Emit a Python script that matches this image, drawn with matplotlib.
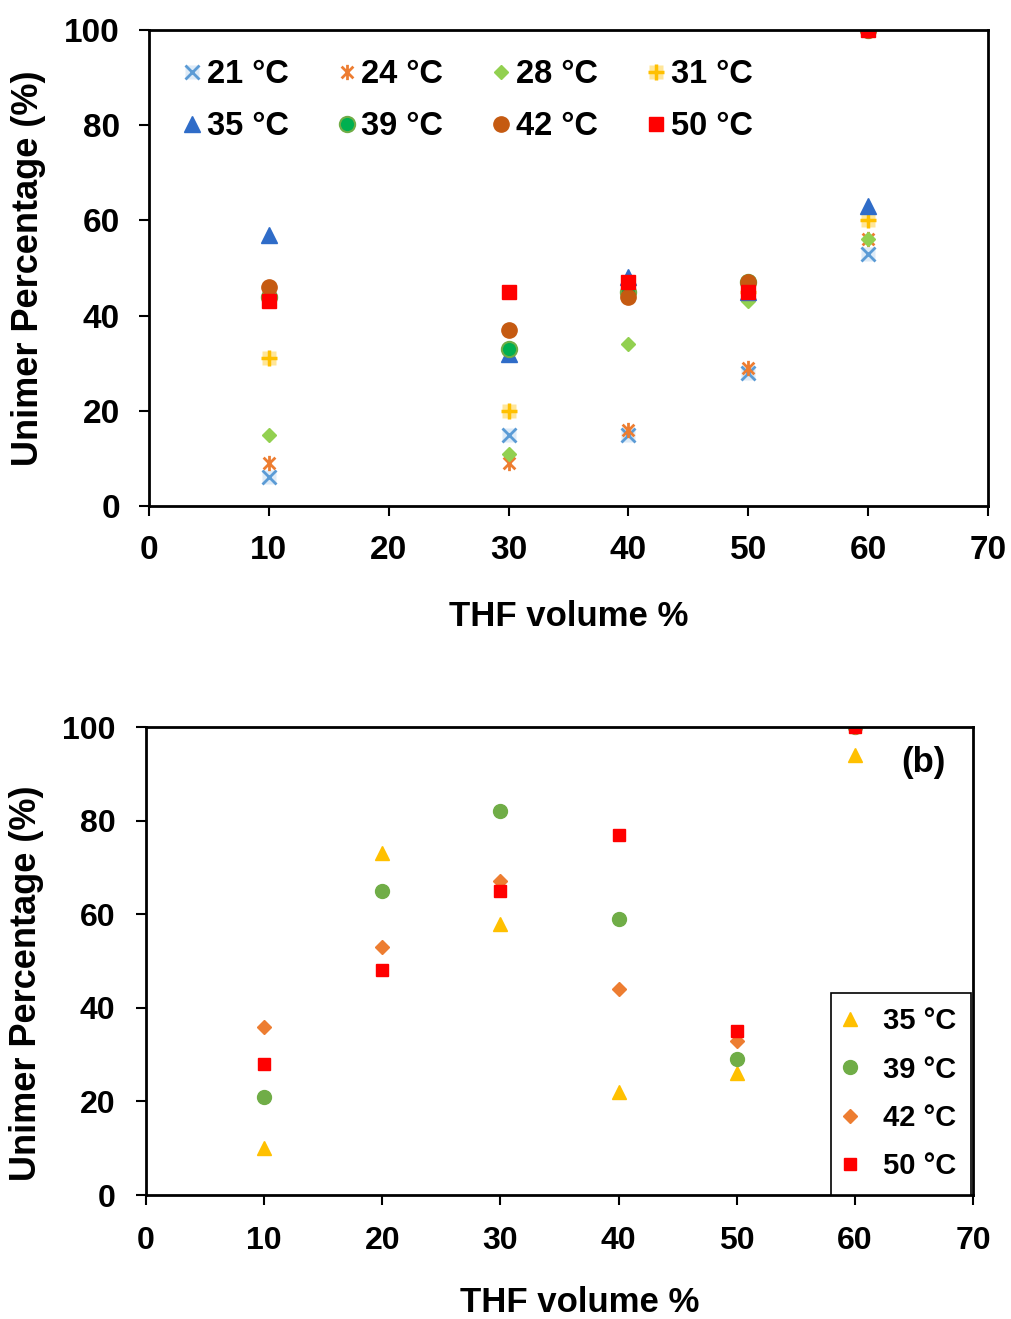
"""Unimer percentage vs THF volume % at several temperatures (two panels)."""

import matplotlib

matplotlib.use("Agg")
import matplotlib.pyplot as plt
from matplotlib.legend_handler import HandlerTuple
from matplotlib.path import Path

plt.rcParams["font.family"] = ["Liberation Sans", "DejaVu Sans"]
plt.rcParams["font.weight"] = "bold"

# panel (a)
thf_a = [10, 30, 40, 50, 60]
temps_a = ["21 °C", "24 °C", "28 °C", "31 °C", "35 °C", "39 °C", "42 °C", "50 °C"]
t21 = [6, 15, 15, 28, 53]
t24 = [9, 9, 16, 29, 56]
t28 = [15, 11, 34, 43, 56]
t31 = [31, 20, 45, 45, 60]
t35 = [57, 32, 48, 45, 63]
t39 = [44, 33, 45, 47, 100]
t42 = [46, 37, 44, 47, 100]
t50 = [43, 45, 47, 45, 100]

# panel (b)
thf_b = [10, 20, 30, 40, 50, 60]
temps_b = ["35 °C", "39 °C", "42 °C", "50 °C"]
b35 = [10, 73, 58, 22, 26, 94]
b39 = [21, 65, 82, 59, 29, 100]
b42 = [36, 53, 67, 44, 33, 100]
b50 = [28, 48, 65, 77, 35, 100]

M, L = Path.MOVETO, Path.LINETO
STAR = Path([(-1, -1), (1, 1), (-1, 1), (1, -1), (0, -1.3), (0, 1.3)], [M, L, M, L, M, L])


def style(ax, size, pad):
    ax.set_xlim(0, 70)
    ax.set_ylim(0, 100)
    ax.set_xticks(range(0, 71, 10))
    ax.set_yticks(range(0, 101, 20))
    for s in ax.spines.values():
        s.set_linewidth(2)
    ax.tick_params(labelsize=size, width=1.5, length=7, direction="out", pad=pad)
    for lab in ax.get_xticklabels() + ax.get_yticklabels():
        lab.set_fontweight("bold")


def labels(ax, xpos, ypos):
    ax.set_xlabel("THF volume %", fontsize=25, fontweight="bold", va="center")
    ax.set_ylabel("Unimer Percentage (%)", fontsize=26, fontweight="bold", va="center")
    ax.xaxis.set_label_coords(*xpos)
    ax.yaxis.set_label_coords(*ypos)


fig = plt.figure(figsize=(10.11, 13.19), dpi=100)

# ---- (a)
ax = fig.add_axes([0.1474, 0.6164, 0.8299, 0.3609])
kw = dict(linestyle="none")
bg21, = ax.plot(thf_a, t21, marker="s", ms=10, mfc="#DEEBF7", mec="none", **kw)
h21, = ax.plot(thf_a, t21, marker="x", ms=10, mew=2, color="#5B9BD5", **kw)
h24, = ax.plot(thf_a, t24, marker=STAR, ms=11, mew=2, mfc="none", mec="#ED7D31", **kw)
h28, = ax.plot(thf_a, t28, marker="D", ms=7, color="#92D050", mec="#92D050", **kw)
bg31, = ax.plot(thf_a, t31, marker="s", ms=10, mfc="#FFE699", mec="none", **kw)
h31, = ax.plot(thf_a, t31, marker="+", ms=11, mew=2.5, color="#FFC000", **kw)
h35, = ax.plot(thf_a, t35, marker="^", ms=12, color="#2F6CC8", mec="#2F6CC8", **kw)
h39, = ax.plot(thf_a, t39, marker="o", ms=11, mfc="#00B050", mec="#70AD47", mew=1.5, **kw)
h42, = ax.plot(thf_a, t42, marker="o", ms=11, color="#C55A11", mec="#C55A11", **kw)
h50, = ax.plot(thf_a, t50, marker="s", ms=10, color="#FF0000", mec="#FF0000", **kw)
style(ax, 24, 14)
labels(ax, (0.5, -0.233), (-0.144, 0.5))
handles = [(bg21, h21), h24, h28, (bg31, h31), h35, h39, h42, h50]
# legend fills column-wise: interleave rows so it reads 21,24,28,31 / 35,39,42,50
order = [0, 4, 1, 5, 2, 6, 3, 7]
ax.legend([handles[i] for i in order], [temps_a[i] for i in order], ncols=4,
          loc="upper left", bbox_to_anchor=(0.024, 0.966), frameon=False,
          handlelength=0.6, handletextpad=0.15, columnspacing=1.48, labelspacing=0.65,
          borderaxespad=0, handler_map={tuple: HandlerTuple(ndivide=1, pad=0)},
          prop={"weight": "bold", "size": 23.5})

# ---- (b)
bx = fig.add_axes([0.1444, 0.0940, 0.8180, 0.3548])
bx.plot(thf_b, b35, marker="^", ms=10, color="#FFC000", **kw)
bx.plot(thf_b, b39, marker="o", ms=10, color="#70AD47", **kw)
bx.plot(thf_b, b42, marker="D", ms=7, color="#ED7D31", **kw)
bx.plot(thf_b, b50, marker="s", ms=8, color="#FF0000", **kw)
style(bx, 23, 15)
labels(bx, (0.525, -0.229), (-0.145, 0.453))
bx.text(0.967, 0.925, "(b)", transform=bx.transAxes, ha="right", va="center",
        fontsize=25, fontweight="bold")
leg = bx.legend(temps_b, loc="lower right", bbox_to_anchor=(0.9976, 0.0),
                prop={"weight": "bold", "size": 21}, handlelength=0.3,
                handletextpad=1.0, labelspacing=0.7, borderaxespad=0, fancybox=False,
                edgecolor="black", framealpha=1, borderpad=0.5)
leg.get_frame().set_linewidth(1.2)

fig.savefig("out.png", dpi=100)
